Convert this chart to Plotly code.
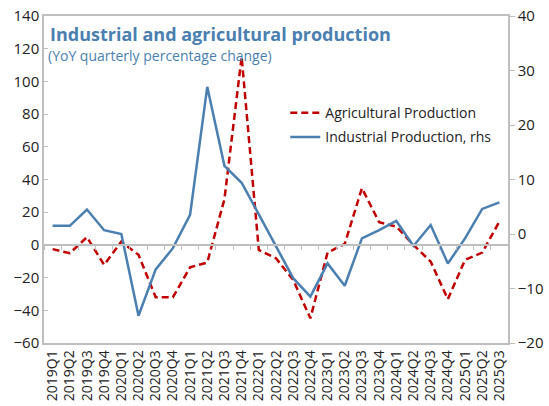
import plotly.graph_objects as go

quarters = [
    "2019Q1", "2019Q2", "2019Q3", "2019Q4",
    "2020Q1", "2020Q2", "2020Q3", "2020Q4",
    "2021Q1", "2021Q2", "2021Q3", "2021Q4",
    "2022Q1", "2022Q2", "2022Q3", "2022Q4",
    "2023Q1", "2023Q2", "2023Q3", "2023Q4",
    "2024Q1", "2024Q2", "2024Q3", "2024Q4",
    "2025Q1", "2025Q2", "2025Q3",
]

# YoY % change, left axis
agricultural = [
    -2.6, -5.1, 4.7, -12.2,
    2.0, -6.1, -32.0, -32.0,
    -13.7, -10.8, 28.0, 115.0,
    -3.1, -8.2, -21.4, -44.9,
    -4.7, 0.6, 34.7, 13.9,
    11.2, 0.0, -10.2, -33.2,
    -9.2, -4.7, 14.3,
]

# YoY % change, right axis
industrial = [
    1.5, 1.5, 4.5, 0.7,
    0.0, -15.0, -6.5, -2.6,
    3.5, 27.0, 12.5, 9.4,
    3.6, -2.3, -8.1, -11.5,
    -5.4, -9.5, -0.8, 0.7,
    2.4, -2.2, 1.65, -5.4,
    -0.8, 4.6, 5.8,
]

left_ticks = [-60, -40, -20, 0, 20, 40, 60, 80, 100, 120, 140]
right_ticks = [-20, -10, 0, 10, 20, 30, 40]

RED = "#c00000"
BLUE = "#4a7fb0"
GRID = "#bfbfbf"
FONT = "Open Sans"

fig = go.Figure()

fig.add_trace(go.Scatter(
    x=quarters, y=agricultural, name="Agricultural Production",
    mode="lines", line=dict(color=RED, width=2.5, dash="7px,4px"),
    yaxis="y", xaxis="x", legendgroup="agri",
))
fig.add_trace(go.Scatter(
    x=quarters, y=industrial, name="Industrial Production, rhs",
    mode="lines", line=dict(color=BLUE, width=2.5),
    yaxis="y2", xaxis="x", legendgroup="ind",
))
# invisible helper trace so the zero-line category axis gets drawn
fig.add_trace(go.Scatter(
    x=quarters, y=[None] * len(quarters), xaxis="x2", yaxis="y",
    mode="lines", showlegend=False, hoverinfo="skip",
))

fig.update_layout(
    width=549, height=406,
    margin=dict(l=44, r=41, t=16, b=63),
    paper_bgcolor="white", plot_bgcolor="white",
    font=dict(family=FONT, color="#222222", size=13),
    showlegend=True,
    legend=dict(
        x=0.52, y=0.752, xanchor="left", yanchor="top",
        bgcolor="rgba(0,0,0,0)", font=dict(size=14, color="#222222"),
        itemwidth=30, tracegroupgap=3,
    ),
    xaxis=dict(
        type="category", categoryorder="array", categoryarray=quarters,
        range=[-0.5, len(quarters) - 0.5],
        tickmode="array", tickvals=quarters, ticktext=quarters,
        automargin=False,
        showline=True, linecolor=GRID, linewidth=1.5, mirror=True,
        showgrid=False, zeroline=False, ticks="",
        tickangle=-90, tickfont=dict(size=14, color="#222222"),
    ),
    xaxis2=dict(
        type="category", categoryorder="array", categoryarray=quarters,
        range=[-0.5, len(quarters) - 0.5],
        overlaying="x", anchor="free", position=0.3, side="bottom",
        showline=True, linecolor=GRID, linewidth=1.5,
        ticks="outside", ticklen=4, tickcolor=GRID, tickson="boundaries",
        showticklabels=False, showgrid=False, zeroline=False,
    ),
    yaxis=dict(
        range=[-60, 140], tickvals=left_ticks, automargin=False,
        showline=True, linecolor=GRID, linewidth=1.5, mirror=True,
        ticks="inside", ticklen=4, tickcolor=GRID,
        showgrid=False, zeroline=False,
        tickfont=dict(size=15, color="#222222"),
    ),
    yaxis2=dict(
        range=[-20, 40], tickvals=right_ticks, automargin=False,
        overlaying="y", side="right", anchor="x",
        showline=True, linecolor=GRID, linewidth=1.5,
        ticks="outside", ticklen=5, tickcolor=GRID,
        showgrid=False, zeroline=False,
        tickfont=dict(size=15, color="#222222"),
    ),
    annotations=[
        dict(
            text="<b>Industrial and agricultural production</b>",
            xref="paper", yref="paper", x=0.008, y=0.945,
            xanchor="left", yanchor="middle", showarrow=False,
            font=dict(family=FONT, size=18, color=BLUE),
        ),
        dict(
            text="(YoY quarterly percentage change)",
            xref="paper", yref="paper", x=0.004, y=0.878,
            xanchor="left", yanchor="middle", showarrow=False,
            font=dict(family=FONT, size=14, color=BLUE),
        ),
    ],
)

fig.write_html("out.html")
